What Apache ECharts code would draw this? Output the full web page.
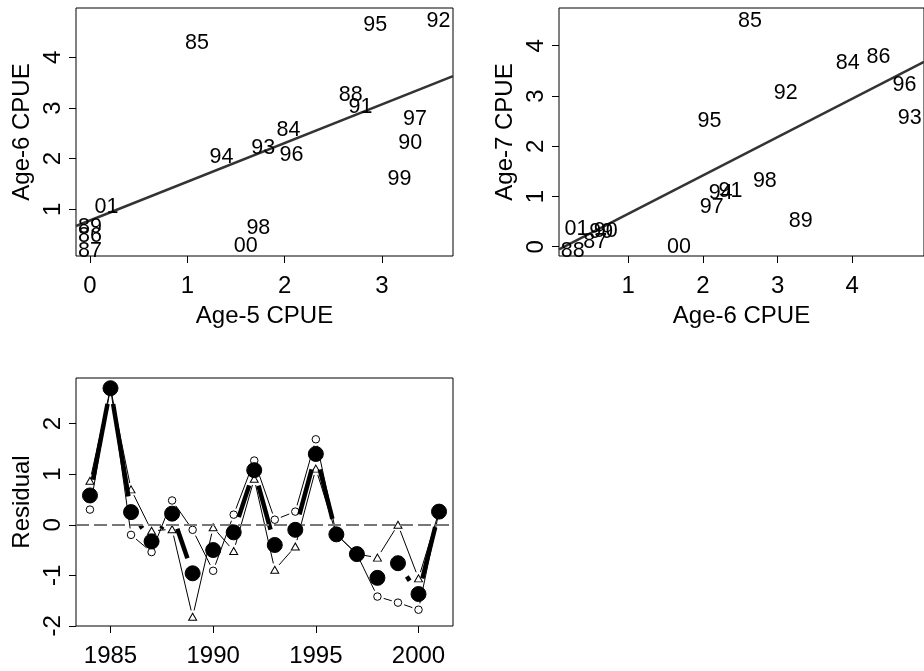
<!DOCTYPE html>
<html><head><meta charset="utf-8">
<script src="https://cdn.jsdelivr.net/npm/echarts@6/dist/echarts.min.js"></script>
<style>html,body{margin:0;padding:0;background:#fff}#c{width:924px;height:671px}</style>
</head><body><div id="c"></div>
<script>
// ---- Panel 1: Age-5 CPUE (x) vs Age-6 CPUE (y), points labelled by year
const labels1 = ['84','85','86','87','88','89','90','91','92','93','94','95','96','97','98','99','00','01'];
const age5x   = [2.04, 1.10, 0.00, 0.00, 2.68, 0.00, 3.29, 2.78, 3.58, 1.78, 1.35, 2.93, 2.07, 3.34, 1.73, 3.18, 1.60, 0.17];
const age6y   = [2.64, 4.35, 0.55, 0.26, 3.33, 0.72, 2.39, 3.10, 4.79, 2.28, 2.10, 4.71, 2.14, 2.85, 0.70, 1.68, 0.35, 1.12];
const fit1Intercept = 0.78, fit1Slope = 0.764;

// ---- Panel 2: Age-6 CPUE (x) vs Age-7 CPUE (y)
const labels2 = ['84','85','86','87','88','89','90','91','92','93','94','95','96','97','98','99','00','01'];
const age6x   = [3.94, 2.63, 4.35, 0.56, 0.26, 3.31, 0.70, 2.37, 3.11, 4.77, 2.24, 2.09, 4.70, 2.12, 2.83, 0.64, 1.68, 0.31];
const age7y   = [3.74, 4.57, 3.86, 0.18, 0.00, 0.59, 0.40, 1.19, 3.14, 2.63, 1.15, 2.58, 3.29, 0.87, 1.39, 0.37, 0.08, 0.44];
const fit2Intercept = -0.109, fit2Slope = 0.764;

// ---- Panel 3: residuals by year
const resYears = [1984,1985,1986,1987,1988,1989,1990,1991,1992,1993,1994,1995,1996,1997,1998,1999,2000,2001];
const resMean  = [0.58, 2.70, 0.25, -0.33, 0.22, -0.96, -0.50, -0.15, 1.08, -0.40, -0.10, 1.40, -0.19, -0.58, -1.05, -0.76, -1.37, 0.26];
const resOpen  = [0.30, 2.72, -0.20, -0.54, 0.48, -0.10, -0.91, 0.20, 1.27, 0.10, 0.26, 1.69, -0.19, -0.58, -1.42, -1.54, -1.68, 0.26];
const resTri   = [0.87, 2.70, 0.70, -0.12, -0.09, -1.82, -0.05, -0.52, 0.91, -0.89, -0.43, 1.11, -0.19, -0.58, -0.65, 0.00, -1.06, 0.26];

// ---- tick values
const ticksX1 = [0,1,2,3], ticksY1 = [1,2,3,4];
const ticksX2 = [1,2,3,4], ticksY2 = [0,1,2,3,4];
const ticksX3 = [1985,1990,1995,2000], ticksY3 = [-2,-1,0,1,2];

const FONT = '"Liberation Sans", Arial, sans-serif';
const lim1 = {x:[-0.144, 3.73], y:[0.078, 4.973]};
const lim2 = {x:[0.075, 4.96], y:[-0.185, 4.751]};
const lim3 = {x:[1983.32, 2001.68], y:[-2.002, 2.902]};

function xAx(gi, lim, ticks, name) {
  return {type:'value', gridIndex:gi, min:lim[0], max:lim[1], name:name,
    nameLocation:'middle', nameGap:48,
    nameTextStyle:{fontFamily:FONT, fontSize:24, color:'#000'},
    axisLine:{show:false, onZero:false}, splitLine:{show:false},
    axisTick:{show:true, inside:false, length:7, customValues:ticks, lineStyle:{color:'#000', width:1}},
    axisLabel:{customValues:ticks, margin:18, fontFamily:FONT, fontSize:24, color:'#000', formatter:v=>String(v)}};
}
function yAx(gi, lim, ticks, name) {
  return {type:'value', gridIndex:gi, min:lim[0], max:lim[1], name:name,
    nameLocation:'middle', nameGap:42, nameRotate:90,
    nameTextStyle:{fontFamily:FONT, fontSize:24, color:'#000'},
    axisLine:{show:false, onZero:false}, splitLine:{show:false},
    axisTick:{show:true, inside:false, length:7, customValues:ticks, lineStyle:{color:'#000', width:1}},
    axisLabel:{customValues:ticks, rotate:90, margin:11, fontFamily:FONT, fontSize:24, color:'#000', formatter:v=>String(v)}};
}
function labelScatter(gi, xs, ys, names) {
  return {type:'scatter', xAxisIndex:gi, yAxisIndex:gi, silent:true, symbolSize:0.01,
    itemStyle:{color:'#fff', opacity:1},
    data: xs.map((x,i)=>({value:[x, ys[i]], name:names[i]})),
    label:{show:true, position:'inside', formatter:'{b}', offset:[0,4], opacity:1,
      textBorderWidth:0, fontFamily:FONT, fontSize:21.5, color:'#000'},
    emphasis:{disabled:true}, z:3};
}
function fitLine(gi, lim, a, b) {
  return {type:'line', xAxisIndex:gi, yAxisIndex:gi, silent:true, symbol:'none',
    data:[[lim[0], a + b*lim[0]], [lim[1], a + b*lim[1]]],
    lineStyle:{color:'#333', width:2.5}, z:2};
}
// R "type = b" style connecting segments (gap around each point)
function bLine(vals, gap, width, z, extra) {
  return Object.assign({type:'custom', xAxisIndex:2, yAxisIndex:2, silent:true, z:z,
    data: resYears.map((y,i)=>[y, vals[i]]),
    renderItem:(params, api)=>{
      const i = params.dataIndex;
      if (i === 0) return {type:'group', children:[]};
      const p0 = api.coord([resYears[i-1], vals[i-1]]);
      const p1 = api.coord([api.value(0), api.value(1)]);
      const dx = p1[0]-p0[0], dy = p1[1]-p0[1];
      const d = Math.hypot(dx, dy);
      if (d <= 2*gap) return {type:'group', children:[]};
      const ux = dx/d, uy = dy/d;
      return {type:'line', shape:{x1:p0[0]+ux*gap, y1:p0[1]+uy*gap, x2:p1[0]-ux*gap, y2:p1[1]-uy*gap},
        style:{stroke:'#000', lineWidth:width, lineCap:'butt'}};
    }}, extra || {});
}
function markers(vals, symbol, size, fill, z) {
  return {type:'scatter', xAxisIndex:2, yAxisIndex:2, silent:true, z:z,
    symbol:symbol, symbolSize:size,
    itemStyle:{color:fill, borderColor:'#000', borderWidth:1, opacity:1},
    data: resYears.map((y,i)=>[y, vals[i]]), emphasis:{disabled:true}};
}

const chart = echarts.init(document.getElementById('c'), null, {renderer:'canvas'});
chart.setOption({
  animation:false,
  backgroundColor:'#fff',
  grid:[
    {left:76, top:8, width:377, height:248, show:true, borderColor:'#000', borderWidth:1, backgroundColor:'transparent'},
    {left:559, top:8, width:377, height:248, show:true, borderColor:'#000', borderWidth:1, backgroundColor:'transparent'},
    {left:76, top:378, width:377, height:248, show:true, borderColor:'#000', borderWidth:1, backgroundColor:'transparent'}
  ],
  xAxis:[ xAx(0, lim1.x, ticksX1, 'Age-5 CPUE'), xAx(1, lim2.x, ticksX2, 'Age-6 CPUE'), xAx(2, lim3.x, ticksX3, '') ],
  yAxis:[ yAx(0, lim1.y, ticksY1, 'Age-6 CPUE'), yAx(1, lim2.y, ticksY2, 'Age-7 CPUE'), yAx(2, lim3.y, ticksY3, 'Residual') ],
  series:[
    fitLine(0, lim1.x, fit1Intercept, fit1Slope),
    labelScatter(0, age5x, age6y, labels1),
    fitLine(1, lim2.x, fit2Intercept, fit2Slope),
    labelScatter(1, age6x, age7y, labels2),
    bLine(resOpen, 6.5, 1, 2, {markLine:{silent:true, symbol:'none', label:{show:false},
      lineStyle:{color:'#777', width:2, type:[13,5]}, data:[{yAxis:0}]}}),
    bLine(resTri, 6.5, 1, 2),
    markers(resOpen, 'circle', 7.5, '#fff', 3),
    markers(resTri, 'triangle', [8,7], '#fff', 3),
    bLine(resMean, 16, 4.5, 4),
    markers(resMean, 'circle', 15, '#000', 5)
  ]
});
</script></body></html>
